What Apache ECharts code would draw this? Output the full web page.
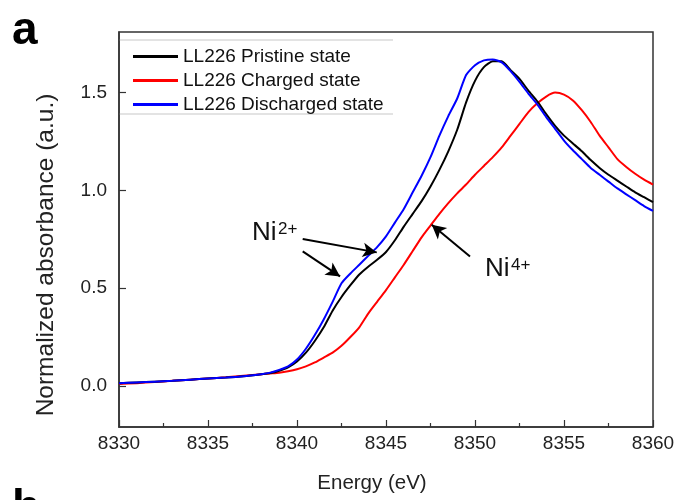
<!DOCTYPE html>
<html><head><meta charset="utf-8">
<script src="https://cdn.jsdelivr.net/npm/echarts@6/dist/echarts.min.js"></script>
<style>html,body{margin:0;padding:0;background:#fff}#c{width:678px;height:500px}</style>
</head><body><div id="c"></div>
<script>
// ---- data ----
const energy = [8330,8331,8332,8333,8334,8335,8336,8337,8338,
  8338.5,8339,8339.5,8340,8340.5,8341,8341.5,8342,8342.5,8343,8343.5,8344,8344.5,8345,8345.5,8346,8346.5,8347,8347.5,8348,8348.5,8349,8349.5,8350,8350.5,8351,8351.5,8352,8352.5,8353,8353.5,8354,8354.5,8355,8355.5,8356,8356.5,8357,8357.5,8358,8358.5,8359,8359.5,8360];
const pristine = [0.014,0.018,0.022,0.026,0.032,0.038,0.043,0.050,0.060,
  0.066,0.078,0.095,0.125,0.17,0.23,0.30,0.385,0.455,0.515,0.57,0.61,0.645,0.685,0.745,0.815,0.88,0.945,1.02,1.105,1.20,1.31,1.45,1.56,1.63,1.66,1.66,1.615,1.57,1.51,1.455,1.39,1.33,1.28,1.24,1.20,1.155,1.115,1.08,1.05,1.02,0.99,0.965,0.94];
const charged = [0.010,0.014,0.020,0.026,0.032,0.038,0.044,0.052,0.060,
  0.064,0.068,0.075,0.085,0.10,0.12,0.145,0.17,0.205,0.25,0.30,0.37,0.43,0.49,0.555,0.62,0.69,0.76,0.82,0.88,0.935,0.985,1.03,1.08,1.125,1.17,1.22,1.28,1.34,1.40,1.445,1.48,1.50,1.49,1.46,1.41,1.35,1.28,1.22,1.16,1.12,1.085,1.055,1.03];
const discharged = [0.014,0.018,0.022,0.026,0.032,0.038,0.043,0.050,0.060,
  0.068,0.082,0.10,0.135,0.19,0.26,0.34,0.43,0.525,0.575,0.62,0.665,0.71,0.765,0.835,0.905,0.99,1.075,1.17,1.28,1.38,1.47,1.59,1.64,1.665,1.67,1.655,1.61,1.555,1.495,1.44,1.375,1.315,1.255,1.205,1.16,1.115,1.08,1.045,1.01,0.98,0.95,0.92,0.895];
const seriesNames = ['LL226 Pristine state','LL226 Charged state','LL226 Discharged state'];
const yTicks = [0, 0.5, 1.0, 1.5];
const xTicks = [8330, 8335, 8340, 8345, 8350, 8355, 8360];
// annotation arrows [from, to] in data coords
const arrows = [
  [[8340.32, 0.751], [8344.48, 0.683]],
  [[8340.32, 0.688], [8342.42, 0.560]],
  [[8349.72, 0.662], [8347.57, 0.824]]
];
const labels = [
  {base: 'Ni', sup: '2+', at: [8337.47, 0.783]},
  {base: 'Ni', sup: '4+', at: [8350.56, 0.599]}
];

const FONT = '"Liberation Sans", Arial, sans-serif';
const zip = (xs, ys) => xs.map((x, i) => [x, ys[i]]);

const chart = echarts.init(document.getElementById('c'), null, {renderer: 'canvas'});
const lineSeries = (name, ys, color, extra) => Object.assign({
  name, type: 'line', data: zip(energy, ys), showSymbol: false, symbol: 'none',
  smooth: 0.2, lineStyle: {color, width: 2}, itemStyle: {color}, animation: false
}, extra || {});

chart.setOption({
  animation: false,
  grid: {left: 119, right: 25, top: 32, bottom: 73, show: true, borderColor: '#333', borderWidth: 1.5},
  legend: {
    data: seriesNames, orient: 'vertical', left: 133, top: 47, padding: 0,
    itemWidth: 45, itemHeight: 3, itemGap: 5, icon: 'rect',
    textStyle: {fontFamily: FONT, fontSize: 19, color: '#111', lineHeight: 19}
  },
  xAxis: {
    type: 'value', min: 8330, max: 8360, interval: 5,
    axisLine: {onZero: false, lineStyle: {color: '#333', width: 1.5}},
    axisTick: {inside: true, length: 7, lineStyle: {color: '#333', width: 1.2}},
    minorTick: {show: true, splitNumber: 2, length: 4, lineStyle: {color: '#333', width: 1.2}},
    axisLabel: {fontFamily: FONT, fontSize: 19, color: '#222', margin: 7, formatter: v => String(v)},
    splitLine: {show: false}
  },
  yAxis: {
    type: 'value', min: -0.21, max: 1.81, splitNumber: 4,
    axisLine: {show: true, onZero: false, lineStyle: {color: '#333', width: 1.5}},
    axisTick: {show: true, inside: true, length: 7, customValues: yTicks, lineStyle: {color: '#333', width: 1.2}},
    axisLabel: {fontFamily: FONT, fontSize: 19, color: '#222', margin: 12, customValues: yTicks,
      formatter: v => v.toFixed(1)},
    splitLine: {show: false}
  },
  series: [
    lineSeries(seriesNames[0], pristine, '#000000', {
      z: 3,
      markLine: {
        silent: true, animation: false, symbol: ['none', 'arrow'], symbolSize: [11, 14],
        label: {show: false}, lineStyle: {color: '#000', width: 2, type: 'solid'},
        data: arrows.map(a => [{coord: a[0]}, {coord: a[1]}])
      }
    }),
    lineSeries(seriesNames[1], charged, '#ff0000', {z: 2}),
    lineSeries(seriesNames[2], discharged, '#0000ff', {z: 4})
  ]
});

// annotation texts and panel labels
const g = [];
labels.forEach(l => {
  const p = chart.convertToPixel({gridIndex: 0}, l.at);
  g.push({type: 'text', left: p[0], top: p[1] - 13, silent: true,
    style: {text: l.base, font: '26px ' + FONT, fill: '#111'}});
  g.push({type: 'text', left: p[0] + 26, top: p[1] - 12, silent: true,
    style: {text: l.sup, font: '17px ' + FONT, fill: '#111'}});
});
// axis titles
g.push({type: 'text', x: 372, y: 483, silent: true,
  style: {text: 'Energy (eV)', font: '20.5px ' + FONT, fill: '#222', textAlign: 'center', textVerticalAlign: 'middle'}});
g.push({type: 'text', x: 46, y: 255, rotation: Math.PI / 2, silent: true,
  style: {text: 'Normalized absorbance (a.u.)', font: '24.5px ' + FONT, fill: '#222', textAlign: 'center', textVerticalAlign: 'middle'}});
// legend frame lines
g.push({type: 'line', silent: true, shape: {x1: 119, y1: 40, x2: 393, y2: 40}, style: {stroke: '#c8c8c8', lineWidth: 1.2}});
g.push({type: 'line', silent: true, shape: {x1: 119, y1: 114, x2: 393, y2: 114}, style: {stroke: '#c8c8c8', lineWidth: 1.2}});
g.push({type: 'text', left: 12, top: 8, silent: true, style: {text: 'a', font: 'bold 46px ' + FONT, fill: '#000'}});
g.push({type: 'text', left: 12, top: 486, silent: true, style: {text: 'b', font: 'bold 46px ' + FONT, fill: '#000'}});
chart.setOption({graphic: g});
</script>
</body></html>
